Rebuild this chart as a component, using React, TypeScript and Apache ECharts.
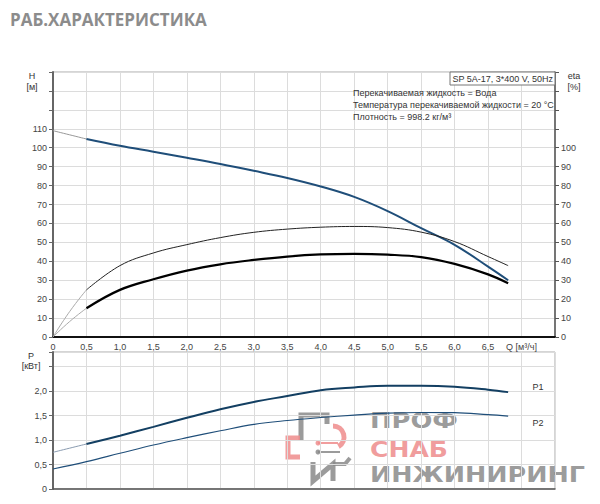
import React, { useEffect, useRef } from "react";
import * as echarts from "echarts";

// ---- data ----
const flow = [0.5, 1.0, 1.5, 2.0, 2.5, 3.0, 3.5, 4.0, 4.5, 5.0, 5.5, 6.0, 6.5, 6.8];
const head = [104.6, 101, 97.9, 94.7, 91.4, 87.8, 84, 79.5, 74, 66.5, 57.5, 48.7, 37.2, 30];
const etaTotal = [24.9, 37.7, 44.4, 48.8, 52.5, 55.3, 57, 58, 58.4, 57.8, 55.4, 50.4, 42.5, 37.7];
const etaPump = [15.2, 24.9, 30.5, 35.1, 38.4, 40.7, 42.5, 43.6, 43.9, 43.5, 42.2, 38.6, 33.1, 28.4];
const powerP1 = [0.92, 1.09, 1.27, 1.455, 1.63, 1.78, 1.9, 2.02, 2.075, 2.11, 2.11, 2.09, 2.03, 1.98];

const startFlow = [0, 0.25, 0.5];
const startHead = [109, 106.8, 104.6];
const startEtaTotal = [0, 13.5, 24.9];
const startEtaPump = [0, 8.2, 15.2];
const startP1 = [0.75, 0.835, 0.92];

const flowP2 = [0, 0.5, 1.0, 1.5, 2.0, 2.5, 3.0, 3.5, 4.0, 4.5, 5.0, 5.5, 6.0, 6.5, 6.8];
const powerP2 = [0.41, 0.56, 0.73, 0.9, 1.05, 1.19, 1.32, 1.4, 1.46, 1.51, 1.55, 1.565, 1.56, 1.52, 1.49];

const titleText = "РАБ.ХАРАКТЕРИСТИКА";
const pumpLabel = "SP 5A-17, 3*400 V, 50Hz";
const infoLines = [
  "Перекачиваемая жидкость = Вода",
  "Температура перекачиваемой жидкости = 20 °C",
  "Плотность = 998.2 кг/м³",
];
const qAxisName = "Q [м³/ч]";

const pairs = (xs: number[], ys: number[]) => xs.map((x, i) => [x, ys[i]]);

const FONT = "'Liberation Sans', Arial, sans-serif";

function fitScale(text: string, font: string, target: number) {
  const c = document.createElement("canvas").getContext("2d");
  if (!c) return 1;
  c.font = font;
  const w = c.measureText(text).width;
  return w > 0 ? target / w : 1;
}

const fmtNum = (v: number) => (v === 0 ? "0" : v.toFixed(1).replace(".", ","));

export default function App() {
  const ref = useRef<HTMLDivElement>(null);

  useEffect(() => {
    if (!ref.current) return;
    const chart = echarts.init(ref.current, undefined, { renderer: "svg" });

    const label = { color: "#444", fontSize: 9, fontFamily: FONT };
    const split = { show: true, lineStyle: { color: "#dcdcdc", width: 1 } };
    const textStyle = (extra: any) => ({ fill: "#333", fontSize: 9, fontFamily: FONT, ...extra });

    const wmFont = "bold 21px 'DejaVu Sans'";
    const sProf = fitScale("ПРОФ", wmFont, 88);
    const sSnab = fitScale("СНАБ", wmFont, 78);
    const sEng = fitScale("ИНЖИНИРИНГ", wmFont, 215);
    const gray = "#8a8a8a";
    const red = "#ee8c8c";

    const option: any = {
      animation: false,
      grid: [
        { left: 53, top: 72, width: 502, height: 265, show: true, borderColor: "#aaa", borderWidth: 1 },
        { left: 53, top: 352, width: 502, height: 137, show: true, borderColor: "#aaa", borderWidth: 1 },
      ],
      xAxis: [
        {
          type: "value", gridIndex: 0, min: 0, max: 7.5, interval: 0.5,
          axisLine: { show: true, onZero: false, lineStyle: { color: "#111", width: 2 } },
          axisTick: { show: false },
          splitLine: split,
          axisLabel: {
            ...label, margin: 5,
            formatter: (v: number) => (v === 7 ? qAxisName : v > 7 ? "" : fmtNum(v)),
          },
        },
        {
          type: "value", gridIndex: 1, min: 0, max: 7.5, interval: 0.5,
          axisLine: { show: true, onZero: false, lineStyle: { color: "#555", width: 1.5 } },
          axisTick: { show: false },
          splitLine: split,
          axisLabel: { show: false },
        },
      ],
      yAxis: [
        {
          type: "value", gridIndex: 0, min: 0, max: 140, interval: 10,
          axisLine: { show: true, lineStyle: { color: "#666", width: 2 } },
          axisTick: { show: true, length: 4, lineStyle: { color: "#666" } },
          splitLine: split,
          axisLabel: { ...label, margin: 6, formatter: (v: number) => (v <= 110 ? String(v) : "") },
        },
        {
          type: "value", gridIndex: 0, position: "right", min: 0, max: 140, interval: 10,
          axisLine: { show: true, lineStyle: { color: "#555", width: 1.5 } },
          axisTick: { show: true, length: 4, lineStyle: { color: "#555" } },
          splitLine: { show: false },
          axisLabel: { ...label, margin: 6, formatter: (v: number) => (v <= 100 ? String(v) : "") },
        },
        {
          type: "value", gridIndex: 1, min: 0, max: 2.8, interval: 0.5,
          axisLine: { show: true, lineStyle: { color: "#666", width: 2 } },
          axisTick: { show: true, length: 4, lineStyle: { color: "#666" } },
          splitLine: split,
          axisLabel: { ...label, margin: 6, formatter: (v: number) => (v <= 2 ? fmtNum(v) : "") },
        },
      ],
      series: [
        { type: "line", xAxisIndex: 0, yAxisIndex: 0, data: pairs(startFlow, startHead), smooth: true, symbol: "none", silent: true, lineStyle: { color: "#999", width: 1 } },
        { type: "line", xAxisIndex: 0, yAxisIndex: 0, data: pairs(flow, head), smooth: 0.4, symbol: "none", silent: true, lineStyle: { color: "#1f4e79", width: 2 } },
        { type: "line", xAxisIndex: 0, yAxisIndex: 1, data: pairs(startFlow, startEtaTotal), smooth: true, symbol: "none", silent: true, lineStyle: { color: "#aaa", width: 1 } },
        { type: "line", xAxisIndex: 0, yAxisIndex: 1, data: pairs(flow, etaTotal), smooth: 0.4, symbol: "none", silent: true, lineStyle: { color: "#222", width: 1 } },
        { type: "line", xAxisIndex: 0, yAxisIndex: 1, data: pairs(startFlow, startEtaPump), smooth: true, symbol: "none", silent: true, lineStyle: { color: "#aaa", width: 1 } },
        { type: "line", xAxisIndex: 0, yAxisIndex: 1, data: pairs(flow, etaPump), smooth: 0.4, symbol: "none", silent: true, lineStyle: { color: "#000", width: 2.2 } },
        { type: "line", xAxisIndex: 1, yAxisIndex: 2, data: pairs(startFlow, startP1), smooth: true, symbol: "none", silent: true, lineStyle: { color: "#8a9bb0", width: 1 } },
        { type: "line", xAxisIndex: 1, yAxisIndex: 2, data: pairs(flow, powerP1), smooth: 0.4, symbol: "none", silent: true, lineStyle: { color: "#133f62", width: 2 } },
        { type: "line", xAxisIndex: 1, yAxisIndex: 2, data: pairs(flowP2, powerP2), smooth: 0.4, symbol: "none", silent: true, lineStyle: { color: "#1f4e79", width: 1.1 } },
      ],
      graphic: [
        { type: "text", left: 10, top: 11, style: { text: titleText, fill: "#8c8c8c", font: "bold 17px 'Open Sans', 'DejaVu Sans', sans-serif" } },
        { type: "text", x: 32, y: 76, style: textStyle({ text: "H", align: "center", verticalAlign: "middle" }) },
        { type: "text", x: 32, y: 87, style: textStyle({ text: "[м]", align: "center", verticalAlign: "middle" }) },
        { type: "text", x: 574, y: 76, style: textStyle({ text: "eta", align: "center", verticalAlign: "middle" }) },
        { type: "text", x: 574, y: 87, style: textStyle({ text: "[%]", align: "center", verticalAlign: "middle" }) },
        { type: "text", x: 31, y: 356, style: textStyle({ text: "P", align: "center", verticalAlign: "middle" }) },
        { type: "text", x: 31, y: 366, style: textStyle({ text: "[кВт]", align: "center", verticalAlign: "middle" }) },
        { type: "text", x: 538, y: 387, style: textStyle({ text: "P1", align: "center", verticalAlign: "middle" }) },
        { type: "text", x: 538, y: 423, style: textStyle({ text: "P2", align: "center", verticalAlign: "middle" }) },
        { type: "rect", shape: { x: 450, y: 72, width: 105, height: 13 }, style: { fill: "#fff", stroke: "#777", lineWidth: 1 }, z: 10 },
        { type: "text", x: 553, y: 78.5, z: 11, style: textStyle({ text: pumpLabel, align: "right", verticalAlign: "middle" }) },
        ...infoLines.map((t, i) => ({
          type: "text", x: 353, y: 93 + i * 12, z: 11, style: textStyle({ text: t, verticalAlign: "middle" }),
        })),
        {
          type: "group", z: 20,
          children: [
            { type: "polyline", shape: { points: [[301, 440], [301, 415], [327, 415], [327, 424]] }, style: { stroke: gray, lineWidth: 5, fill: null, opacity: 0.85 } },
            { type: "polyline", shape: { points: [[300, 438], [288, 438], [288, 457], [300, 457]] }, style: { stroke: red, lineWidth: 5, fill: null, opacity: 0.85 } },
            { type: "arc", shape: { cx: 333, cy: 437, r: 11, startAngle: -Math.PI / 2, endAngle: Math.PI / 3 }, style: { stroke: red, lineWidth: 5, fill: null, opacity: 0.85 } },
            { type: "line", shape: { x1: 318, y1: 443, x2: 338, y2: 443 }, style: { stroke: red, lineWidth: 2, opacity: 0.85 } },
            { type: "circle", shape: { cx: 318, cy: 443, r: 2.5 }, style: { fill: red, opacity: 0.85 } },
            { type: "line", shape: { x1: 318, y1: 452, x2: 340, y2: 452 }, style: { stroke: gray, lineWidth: 2, opacity: 0.85 } },
            { type: "circle", shape: { cx: 318, cy: 452, r: 2.5 }, style: { fill: gray, opacity: 0.85 } },
            { type: "polyline", shape: { points: [[313, 462], [313, 481], [333, 464], [333, 481]] }, style: { stroke: gray, lineWidth: 5, fill: null, opacity: 0.85 } },
            { type: "polyline", shape: { points: [[333, 464], [345, 464], [350, 458]] }, style: { stroke: gray, lineWidth: 4, fill: null, opacity: 0.85 } },
            { type: "text", x: 370, y: 421, scaleX: sProf, style: { text: "ПРОФ", font: wmFont, fill: gray, verticalAlign: "middle", opacity: 0.85 } },
            { type: "text", x: 370, y: 450, scaleX: sSnab, style: { text: "СНАБ", font: wmFont, fill: red, verticalAlign: "middle", opacity: 0.85 } },
            { type: "text", x: 370, y: 474, scaleX: sEng, style: { text: "ИНЖИНИРИНГ", font: wmFont, fill: gray, verticalAlign: "middle", opacity: 0.85 } },
          ],
        },
      ],
    };

    chart.setOption(option);
    return () => chart.dispose();
  }, []);

  return (
    <div
      ref={ref}
      style={{ position: "fixed", left: 0, top: 0, width: 600, height: 504, background: "#fff" }}
    />
  );
}
